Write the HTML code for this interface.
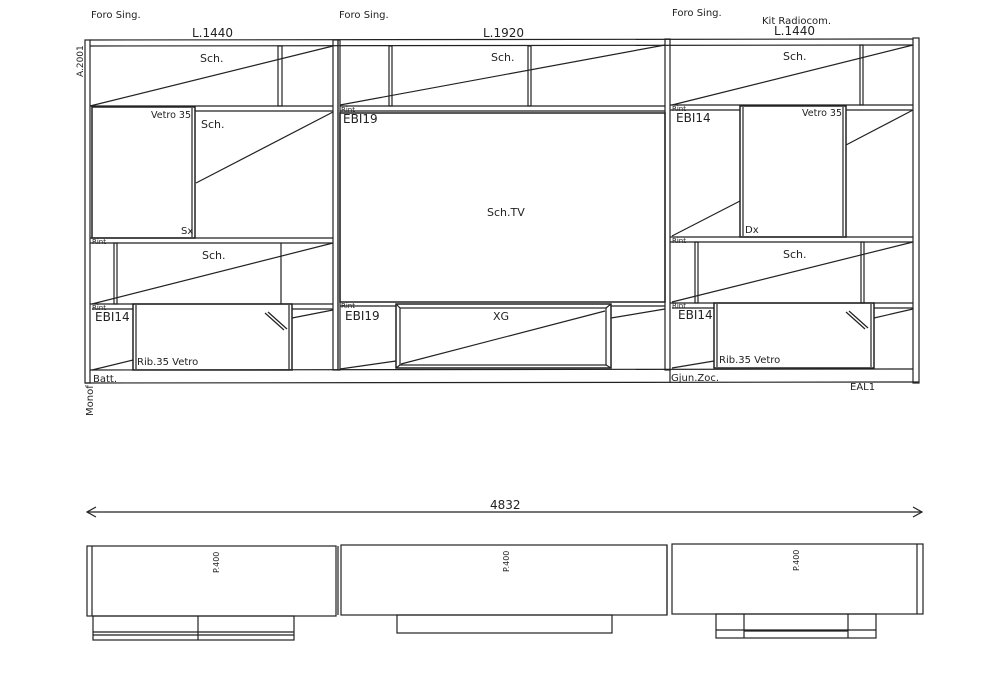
<!DOCTYPE html>
<html><head><meta charset="utf-8"><style>
html,body{margin:0;padding:0;background:#fff;}
svg{display:block;}
text{font-family:"DejaVu Sans","Liberation Sans",sans-serif;fill:#222;}
</style></head><body>
<svg width="1000" height="700" viewBox="0 0 1000 700" xmlns="http://www.w3.org/2000/svg">
<g fill="none" stroke="#222" stroke-width="1.2">
<rect x="85" y="40" width="5" height="343"/>
<rect x="333" y="40" width="5" height="330"/>
<rect x="338" y="40" width="2" height="330"/>
<rect x="665" y="39" width="5" height="331"/>
<rect x="913" y="38" width="6" height="345"/>
<line x1="90" y1="40" x2="913" y2="39"/>
<line x1="90" y1="46" x2="913" y2="45"/>
<line x1="90" y1="370" x2="913" y2="369"/>
<line x1="85" y1="383" x2="919" y2="382"/>
<line x1="670" y1="370" x2="670" y2="382"/>

<rect x="278" y="46" width="4" height="60"/>
<line x1="90" y1="106" x2="333" y2="46"/>
<line x1="90" y1="106" x2="333" y2="106"/>
<line x1="195" y1="111" x2="333" y2="111"/>
<rect x="92" y="107" width="103" height="131" stroke-width="1.5"/>
<line x1="192" y1="108" x2="192" y2="237"/>
<line x1="196" y1="183" x2="333" y2="112"/>
<line x1="90" y1="238" x2="333" y2="238"/>
<line x1="90" y1="243" x2="333" y2="243"/>
<rect x="114" y="243" width="3" height="61"/>
<line x1="281" y1="243" x2="281" y2="304"/>
<line x1="92" y1="304" x2="333" y2="243"/>
<line x1="90" y1="304" x2="333" y2="304"/>
<line x1="92" y1="309" x2="133" y2="309"/>
<line x1="292" y1="309" x2="333" y2="309"/>
<rect x="133" y="304" width="159" height="66" stroke-width="1.5"/>
<line x1="136" y1="305" x2="136" y2="369"/>
<line x1="289" y1="305" x2="289" y2="369"/>
<line x1="92" y1="370" x2="133" y2="360"/>
<line x1="292" y1="318" x2="333" y2="310"/>
<line x1="265" y1="313" x2="284" y2="330"/>
<line x1="268" y1="312" x2="287" y2="329"/>

<rect x="389" y="46" width="3" height="60"/>
<rect x="528" y="46" width="3" height="60"/>
<line x1="340" y1="105" x2="665" y2="45"/>
<line x1="340" y1="106" x2="665" y2="106"/>
<line x1="340" y1="111" x2="665" y2="111"/>
<rect x="340" y="113" width="325" height="189" stroke-width="1.5"/>
<line x1="340" y1="306" x2="396" y2="306"/>
<line x1="611" y1="306" x2="665" y2="306"/>
<rect x="396" y="304" width="215" height="64" stroke-width="1.5"/>
<rect x="400" y="308" width="206" height="57"/>
<line x1="396" y1="304" x2="400" y2="308"/><line x1="611" y1="304" x2="606" y2="308"/>
<line x1="396" y1="368" x2="400" y2="365"/><line x1="611" y1="368" x2="606" y2="365"/>
<line x1="401" y1="364" x2="605" y2="311"/>
<line x1="340" y1="369" x2="396" y2="361"/>
<line x1="611" y1="318" x2="665" y2="309"/>

<rect x="860" y="45" width="3" height="60"/>
<line x1="672" y1="105" x2="913" y2="45"/>
<line x1="670" y1="105" x2="913" y2="105"/>
<line x1="670" y1="110" x2="740" y2="110"/>
<line x1="846" y1="110" x2="913" y2="110"/>
<rect x="740" y="106" width="106" height="131" stroke-width="1.5"/>
<line x1="743" y1="107" x2="743" y2="236"/>
<line x1="843" y1="107" x2="843" y2="236"/>
<line x1="672" y1="236" x2="740" y2="201"/>
<line x1="846" y1="145" x2="913" y2="110"/>
<line x1="670" y1="237" x2="913" y2="237"/>
<line x1="670" y1="242" x2="913" y2="242"/>
<rect x="695" y="242" width="3" height="61"/>
<rect x="861" y="242" width="3" height="61"/>
<line x1="672" y1="302" x2="913" y2="242"/>
<line x1="670" y1="303" x2="913" y2="303"/>
<line x1="672" y1="308" x2="714" y2="308"/>
<line x1="874" y1="308" x2="913" y2="308"/>
<rect x="714" y="303" width="160" height="65" stroke-width="1.5"/>
<line x1="717" y1="304" x2="717" y2="367"/>
<line x1="871" y1="304" x2="871" y2="367"/>
<line x1="672" y1="368" x2="714" y2="361"/>
<line x1="874" y1="318" x2="913" y2="309"/>
<line x1="846" y1="312" x2="865" y2="329"/>
<line x1="849" y1="311" x2="868" y2="328"/>

<line x1="87" y1="512" x2="922" y2="512"/>
<polyline points="96,507 87,512 96,517"/>
<polyline points="913,507 922,512 913,517"/>

<rect x="87" y="546" width="249" height="70"/>
<line x1="92" y1="546" x2="92" y2="616"/>
<line x1="338" y1="546" x2="338" y2="615"/>
<rect x="341" y="545" width="326" height="70"/>
<line x1="667" y1="545" x2="667" y2="615"/>
<rect x="672" y="544" width="251" height="70"/>
<line x1="917" y1="544" x2="917" y2="614"/>
<rect x="93" y="616" width="201" height="24"/>
<line x1="198" y1="616" x2="198" y2="640"/>
<line x1="93" y1="632" x2="294" y2="632"/>
<line x1="93" y1="635" x2="294" y2="635"/>
<rect x="397" y="615" width="215" height="18"/>
<rect x="716" y="614" width="160" height="24"/>
<line x1="744" y1="614" x2="744" y2="638"/>
<line x1="848" y1="614" x2="848" y2="638"/>
<line x1="716" y1="630" x2="876" y2="630"/>
<line x1="744" y1="631" x2="848" y2="631"/>
</g>

<g font-size="10">
<text x="91" y="18">Foro Sing.</text>
<text x="339" y="18">Foro Sing.</text>
<text x="672" y="16">Foro Sing.</text>
<text x="762" y="24">Kit Radiocom.</text>
<text x="191" y="118" text-anchor="end" font-size="9.5">Vetro 35</text>
<text x="181" y="234">Sx</text>
<text x="842" y="116" text-anchor="end" font-size="9.5">Vetro 35</text>
<text x="745" y="233">Dx</text>
<text x="137" y="365">Rib.35 Vetro</text>
<text x="719" y="363">Rib.35 Vetro</text>
<text x="93" y="382">Batt.</text>
<text x="671" y="381">Gjun.Zoc.</text>
<text x="850" y="390">EAL1</text>
</g>
<g font-size="7">
<text x="92" y="244">Rint</text><text x="92" y="310">Rint</text>
<text x="341" y="112">Rint</text><text x="341" y="308">Rint</text>
<text x="672" y="111">Rint</text><text x="672" y="243">Rint</text><text x="672" y="308">Rint</text>
</g>
<g font-size="12">
<text x="192" y="37">L.1440</text>
<text x="483" y="37">L.1920</text>
<text x="774" y="35">L.1440</text>
<text x="95" y="321">EBI14</text>
<text x="343" y="123">EBI19</text>
<text x="345" y="320">EBI19</text>
<text x="676" y="122">EBI14</text>
<text x="678" y="319">EBI14</text>
<text x="490" y="509">4832</text>
</g>
<g font-size="11">
<text x="200" y="62">Sch.</text>
<text x="201" y="128">Sch.</text>
<text x="202" y="259">Sch.</text>
<text x="491" y="61">Sch.</text>
<text x="783" y="60">Sch.</text>
<text x="783" y="258">Sch.</text>
<text x="487" y="216">Sch.TV</text>
<text x="493" y="320">XG</text>
</g>
<g font-size="9">
<text transform="translate(83,77) rotate(-90)">A.2001</text>
<text transform="translate(93,416) rotate(-90)" font-size="10">Monof</text>
</g>
<g font-size="8">
<text transform="translate(219,573) rotate(-90)">P.400</text>
<text transform="translate(509,572) rotate(-90)">P.400</text>
<text transform="translate(799,571) rotate(-90)">P.400</text>
</g>
</svg>
</body></html>
